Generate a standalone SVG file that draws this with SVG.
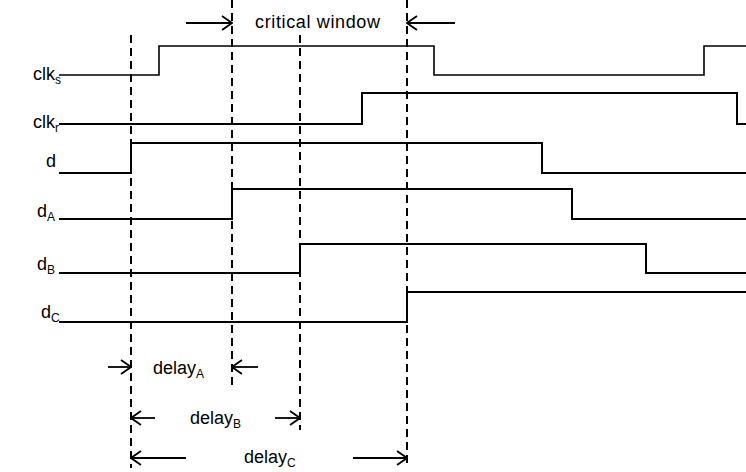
<svg xmlns="http://www.w3.org/2000/svg" width="746" height="472" viewBox="0 0 746 472">
  <defs>
    <marker id="chev" viewBox="0 0 12 16" markerWidth="12" markerHeight="16" refX="11" refY="8" orient="auto" markerUnits="userSpaceOnUse">
      <path d="M1,1 L11,8 L1,15" fill="none" stroke="#000" stroke-width="1.8"/>
    </marker>
    <style>
      .bg { fill: #ffffff; }
      .sig { fill: none; stroke: #000; stroke-width: 2; }
      .sig.thin { stroke-width: 1.6; }
      .guide { fill: none; stroke: #000; stroke-width: 2; stroke-dasharray: 8 5; }
      .dim { fill: none; stroke: #000; stroke-width: 1.8; marker-end: url(#chev); }
      text { font-family: "Liberation Sans", Arial, sans-serif; font-size: 18px; fill: #000; }
      .sub { font-size: 12px; }
    </style>
  </defs>

  <rect class="bg" x="0" y="0" width="746" height="472"/>

  <!-- vertical timing guides -->
  <g id="guides">
    <line class="guide" x1="131" y1="35" x2="131" y2="468"/>
    <line class="guide" x1="232" y1="0" x2="232" y2="385"/>
    <line class="guide" x1="300" y1="35" x2="300" y2="430"/>
    <line class="guide" x1="407" y1="0" x2="407" y2="468"/>
  </g>

  <!-- waveforms -->
  <g id="clk_s">
    <polyline class="sig thin" points="59,75 159,75 159,46 434,46 434,75 704,75 704,46 746,46"/>
    <text x="33" y="80">clk<tspan class="sub" dy="4">s</tspan></text>
  </g>
  <g id="clk_r">
    <polyline class="sig" points="59,124 362,124 362,93 737,93 737,124 746,124"/>
    <text x="33" y="128">clk<tspan class="sub" dy="4">r</tspan></text>
  </g>
  <g id="d">
    <polyline class="sig" points="59,173 131,173 131,143 542,143 542,173 746,173"/>
    <text x="46" y="167">d</text>
  </g>
  <g id="d_A">
    <polyline class="sig" points="59,219 232,219 232,189 572,189 572,219 746,219"/>
    <text x="37" y="217">d<tspan class="sub" dy="4">A</tspan></text>
  </g>
  <g id="d_B">
    <polyline class="sig" points="59,273 300,273 300,244 646,244 646,273 746,273"/>
    <text x="37" y="270">d<tspan class="sub" dy="4">B</tspan></text>
  </g>
  <g id="d_C">
    <polyline class="sig" points="59,322 407,322 407,292 746,292"/>
    <text x="41" y="318">d<tspan class="sub" dy="4">C</tspan></text>
  </g>

  <!-- dimension arrows -->
  <g id="connectors">
    <line class="dim" x1="186" y1="23" x2="232" y2="23"/>
    <line class="dim" x1="455" y1="23" x2="407" y2="23"/>
    <line class="dim" x1="108" y1="367" x2="131" y2="367"/>
    <line class="dim" x1="258" y1="367" x2="232" y2="367"/>
    <line class="dim" x1="155" y1="418" x2="131" y2="418"/>
    <line class="dim" x1="275" y1="418" x2="300" y2="418"/>
    <line class="dim" x1="186" y1="458" x2="131" y2="458"/>
    <line class="dim" x1="353" y1="458" x2="407" y2="458"/>
  </g>

  <g id="labels">
    <text x="255" y="28" textLength="125" lengthAdjust="spacing">critical window</text>
    <text x="153" y="374">delay<tspan class="sub" dy="4">A</tspan></text>
    <text x="190" y="424">delay<tspan class="sub" dy="4">B</tspan></text>
    <text x="244" y="463">delay<tspan class="sub" dy="4">C</tspan></text>
  </g>
</svg>
